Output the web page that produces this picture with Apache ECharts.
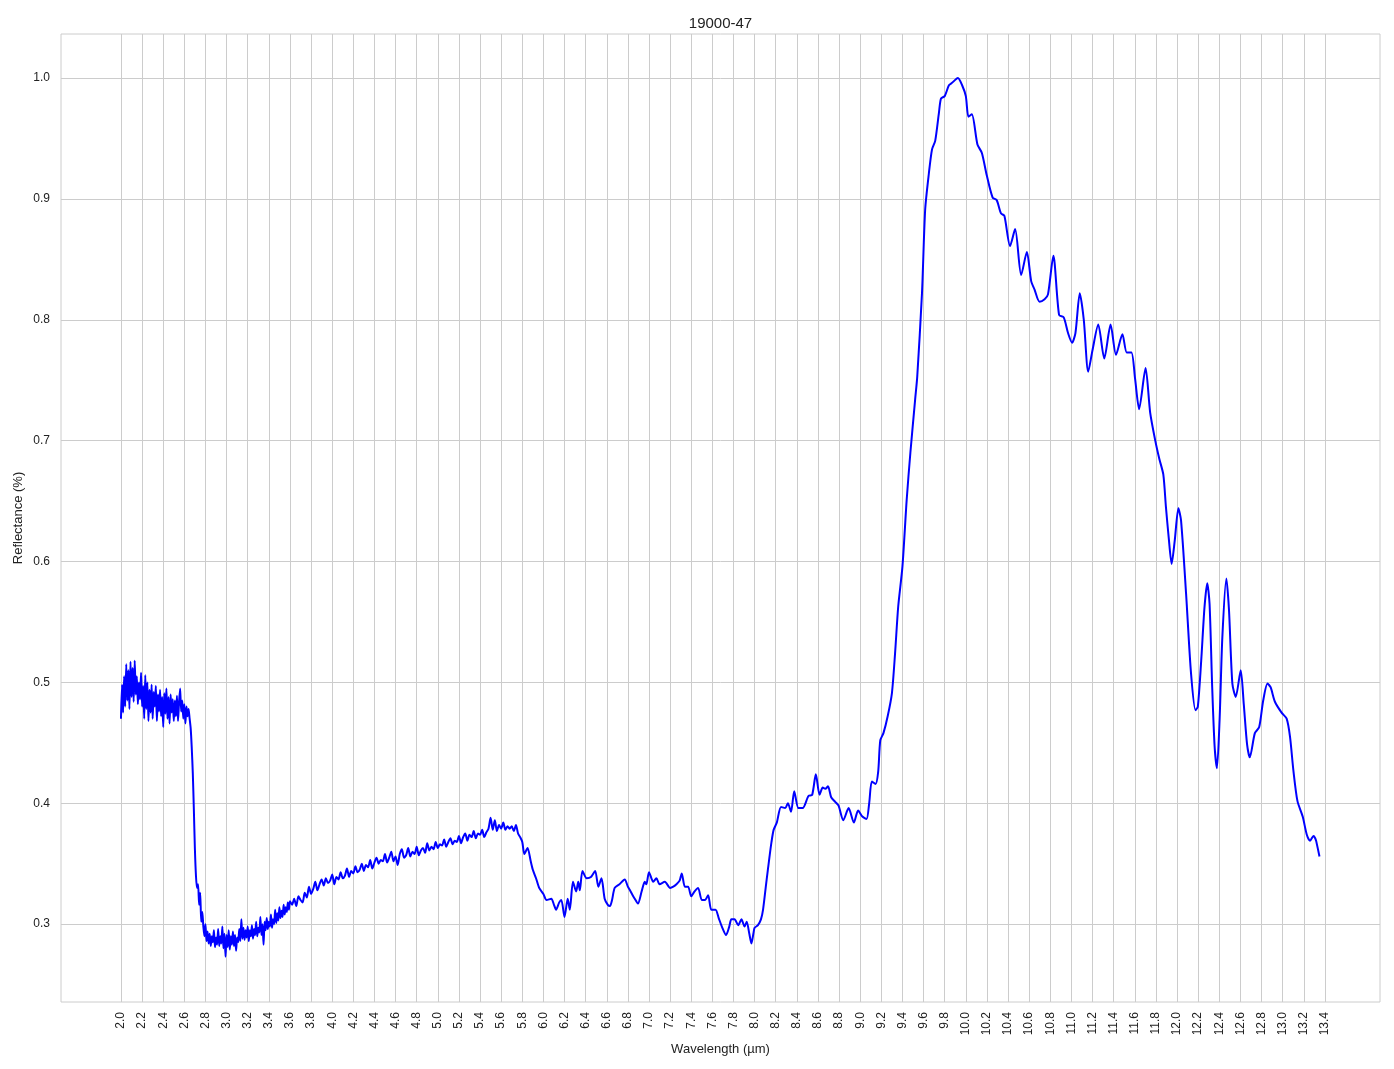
<!DOCTYPE html>
<html><head><meta charset="utf-8">
<script src="https://cdn.jsdelivr.net/npm/echarts@6/dist/echarts.min.js"></script>
<style>html,body{margin:0;padding:0;background:#fff}#c{width:1394px;height:1069px}</style>
</head><body><div id="c"></div><script>
const chartTitle = '19000-47';
const xName = 'Wavelength (µm)';
const yName = 'Reflectance (%)';
const xTicks = [2.0,2.2,2.4,2.6,2.8,3.0,3.2,3.4,3.6,3.8,4.0,4.2,4.4,4.6,4.8,5.0,5.2,5.4,5.6,5.8,6.0,6.2,6.4,6.6,6.8,7.0,7.2,7.4,7.6,7.8,8.0,8.2,8.4,8.6,8.8,9.0,9.2,9.4,9.6,9.8,10.0,10.2,10.4,10.6,10.8,11.0,11.2,11.4,11.6,11.8,12.0,12.2,12.4,12.6,12.8,13.0,13.2,13.4];
const yTicks = [0.3,0.4,0.5,0.6,0.7,0.8,0.9,1.0];

// [wavelength µm, reflectance]
const segNoisyPlateau = [
[2.00,0.470],[2.01,0.498],[2.02,0.475],[2.03,0.505],[2.04,0.480],[2.05,0.515],[2.06,0.485],[2.07,0.510],[2.08,0.478],[2.09,0.517],
[2.10,0.488],[2.11,0.512],[2.12,0.484],[2.13,0.518],[2.14,0.490],[2.15,0.505],[2.16,0.482],[2.17,0.500],[2.18,0.486],[2.19,0.508],
[2.20,0.480],[2.21,0.497],[2.22,0.470],[2.23,0.506],[2.24,0.478],[2.25,0.500],[2.26,0.468],[2.27,0.494],[2.28,0.475],[2.29,0.498],
[2.30,0.470],[2.31,0.492],[2.32,0.480],[2.33,0.497],[2.34,0.468],[2.35,0.490],[2.36,0.476],[2.37,0.494],[2.38,0.472],[2.39,0.488],
[2.40,0.463],[2.41,0.491],[2.42,0.474],[2.43,0.495],[2.44,0.470],[2.45,0.488],[2.46,0.466],[2.47,0.490],[2.48,0.475],[2.49,0.486],
[2.50,0.468],[2.51,0.485],[2.52,0.472],[2.53,0.489],[2.54,0.468],[2.55,0.484],[2.56,0.495],[2.57,0.476],[2.58,0.485],[2.59,0.470],
[2.60,0.482],[2.61,0.466],[2.62,0.480],[2.63,0.472],[2.64,0.478]
];
const segDrop = [
[2.65,0.470],[2.66,0.462],[2.67,0.446],[2.68,0.425],[2.69,0.395],[2.70,0.362],[2.71,0.340],[2.72,0.330],[2.73,0.333],[2.74,0.316],[2.75,0.326],[2.76,0.302],[2.77,0.310]
];
const segTrough = [
[2.78,0.298],[2.79,0.290],[2.80,0.300],[2.81,0.286],[2.82,0.294],[2.83,0.284],[2.84,0.292],[2.85,0.282],[2.86,0.290],[2.87,0.285],
[2.88,0.295],[2.89,0.281],[2.90,0.289],[2.91,0.283],[2.92,0.296],[2.93,0.282],[2.94,0.290],[2.95,0.284],[2.96,0.298],[2.97,0.280],
[2.98,0.292],[2.99,0.273],[3.00,0.291],[3.01,0.281],[3.02,0.295],[3.03,0.279],[3.04,0.290],[3.05,0.283],[3.06,0.294],[3.07,0.282],
[3.08,0.291],[3.09,0.278],[3.10,0.289],[3.11,0.285],[3.12,0.296],[3.13,0.286],[3.14,0.304],[3.15,0.288],[3.16,0.297],[3.17,0.287],
[3.18,0.295],[3.19,0.289],[3.20,0.298],[3.21,0.286],[3.22,0.295],[3.23,0.290],[3.24,0.299],[3.25,0.288],[3.26,0.296],[3.27,0.291],
[3.28,0.302],[3.29,0.290],[3.30,0.297],[3.31,0.293],[3.32,0.306],[3.33,0.291],[3.34,0.300],[3.35,0.283],[3.36,0.302],[3.37,0.295],
[3.38,0.305],[3.39,0.296],[3.40,0.302],[3.41,0.298],[3.42,0.308],[3.43,0.297],[3.44,0.304],[3.45,0.300],[3.46,0.312],[3.47,0.301],
[3.48,0.309],[3.49,0.303],[3.50,0.314],[3.51,0.305],[3.52,0.311],[3.53,0.306],[3.54,0.316],[3.55,0.308],[3.56,0.314],[3.57,0.310],
[3.58,0.318],[3.59,0.312],[3.60,0.319]
];
const segSlope = [
[3.62,0.316],[3.64,0.321],[3.66,0.315],[3.68,0.323],[3.70,0.320],[3.72,0.318],[3.74,0.326],[3.76,0.322],[3.78,0.331],[3.80,0.325],
[3.82,0.329],[3.84,0.335],[3.86,0.328],[3.88,0.333],[3.90,0.337],[3.92,0.332],[3.94,0.338],[3.96,0.334],[3.98,0.336],[4.00,0.341],
[4.02,0.333],[4.04,0.339],[4.06,0.337],[4.08,0.343],[4.10,0.338],[4.12,0.340],[4.14,0.346],[4.16,0.339],[4.18,0.344],[4.20,0.342],
[4.22,0.348],[4.24,0.343],[4.26,0.345],[4.28,0.350],[4.30,0.344],[4.32,0.349],[4.34,0.347],[4.36,0.353],[4.38,0.346],[4.40,0.351],
[4.42,0.355],[4.44,0.350],[4.46,0.353],[4.48,0.352],[4.50,0.358],[4.52,0.351],[4.54,0.355],[4.56,0.360],[4.58,0.352],[4.60,0.356],
[4.62,0.349],[4.64,0.358],[4.66,0.362],[4.68,0.355],[4.70,0.357],[4.72,0.363],[4.74,0.356],[4.76,0.360],[4.78,0.358],[4.80,0.364],
[4.82,0.357],[4.84,0.361],[4.86,0.363],[4.88,0.359],[4.90,0.367],[4.92,0.361],[4.94,0.364],[4.96,0.362],[4.98,0.368],[5.00,0.363],
[5.02,0.366],[5.04,0.365],[5.06,0.370],[5.08,0.364],[5.10,0.368],[5.12,0.371],[5.14,0.366],[5.16,0.369],[5.18,0.368],[5.20,0.373],
[5.22,0.367],[5.24,0.372],[5.26,0.375],[5.28,0.369],[5.30,0.374],[5.32,0.372],[5.34,0.377],[5.36,0.371],[5.38,0.375],[5.40,0.374],
[5.42,0.378],[5.44,0.372],[5.46,0.376],[5.48,0.379],[5.50,0.388],[5.52,0.378],[5.54,0.386],[5.56,0.377],[5.58,0.382],[5.60,0.379],
[5.62,0.384],[5.64,0.378],[5.66,0.381],[5.68,0.379],[5.70,0.381],[5.72,0.377],[5.74,0.382],[5.76,0.375],[5.78,0.372]
];
const segMid = [
[5.80,0.368],[5.82,0.358],[5.85,0.363],[5.88,0.352],[5.90,0.345],[5.93,0.338],[5.96,0.330],[6.00,0.325],[6.03,0.320],[6.075,0.321],
[6.10,0.316],[6.12,0.312],[6.15,0.318],[6.17,0.320],[6.20,0.306],[6.23,0.321],[6.25,0.312],[6.28,0.335],[6.31,0.327],[6.33,0.335],
[6.345,0.328],[6.37,0.344],[6.41,0.338],[6.45,0.339],[6.49,0.344],[6.52,0.331],[6.55,0.338],[6.58,0.321],[6.61,0.316],[6.63,0.315],
[6.65,0.320],[6.675,0.330],[6.72,0.333],[6.77,0.337],[6.80,0.331],[6.82,0.328],[6.845,0.324],[6.865,0.321],[6.895,0.317],[6.93,0.327],
[6.96,0.335],[6.975,0.333],[7.00,0.343],[7.04,0.335],[7.07,0.338],[7.10,0.333],[7.15,0.335],[7.20,0.330],[7.23,0.331],[7.26,0.333],
[7.29,0.336],[7.31,0.342],[7.34,0.331],[7.37,0.331],[7.40,0.323],[7.43,0.327],[7.465,0.330],[7.50,0.320],[7.53,0.320],[7.56,0.324],
[7.59,0.312],[7.63,0.312],[7.66,0.305],[7.69,0.298],[7.73,0.291],[7.76,0.298],[7.78,0.304],[7.81,0.304],[7.845,0.299],[7.875,0.304],
[7.905,0.298],[7.925,0.302],[7.95,0.292],[7.97,0.284],[7.99,0.293],[8.00,0.297],[8.03,0.299],[8.06,0.304],[8.08,0.312]
];
const segShoulder = [
[8.11,0.334],[8.14,0.355],[8.16,0.368],[8.18,0.378],[8.21,0.384],[8.25,0.397],[8.29,0.396],[8.315,0.400],[8.345,0.393],[8.375,0.410],
[8.415,0.396],[8.455,0.396],[8.51,0.406],[8.545,0.407],[8.58,0.424],[8.615,0.407],[8.645,0.413],[8.67,0.412],[8.695,0.414],[8.725,0.405],
[8.765,0.401],[8.795,0.398],[8.84,0.386],[8.89,0.396],[8.94,0.384],[8.98,0.394],[9.02,0.389],[9.06,0.387],[9.085,0.400],[9.11,0.418],
[9.145,0.416],[9.17,0.426],[9.19,0.452],[9.22,0.458],[9.26,0.472],[9.30,0.491],[9.33,0.524],[9.36,0.563],[9.40,0.596],[9.44,0.651],
[9.475,0.690],[9.52,0.734],[9.54,0.753],[9.585,0.822],[9.615,0.891],[9.65,0.921],[9.68,0.941],[9.71,0.948],[9.745,0.971],[9.765,0.983],
[9.80,0.985],[9.84,0.994],[9.87,0.996],[9.925,1.000],[9.965,0.994],[10.00,0.985]
];
const segDecline = [
[10.025,0.968],[10.057,0.970],[10.11,0.945],[10.152,0.938],[10.197,0.920],[10.254,0.901],[10.292,0.899],[10.333,0.888],[10.365,0.886],[10.419,0.861],
[10.467,0.875],[10.524,0.837],[10.578,0.856],[10.619,0.832],[10.651,0.825],[10.698,0.815],[10.746,0.817],[10.778,0.821],[10.829,0.853],[10.883,0.804],
[10.927,0.802],[10.968,0.789],[11.006,0.781],[11.038,0.789],[11.079,0.822],[11.117,0.800],[11.159,0.757],[11.20,0.775],[11.254,0.796],[11.311,0.768],
[11.371,0.796],[11.422,0.771],[11.483,0.788],[11.524,0.773],[11.568,0.773],[11.603,0.751],[11.641,0.726],[11.702,0.760],[11.746,0.723],[11.794,0.700],
[11.832,0.685],[11.87,0.672],[11.895,0.645],[11.921,0.620],[11.949,0.598],[11.978,0.617],[12.013,0.644],[12.038,0.634],[12.086,0.573],[12.133,0.507],
[12.175,0.477],[12.197,0.480],[12.229,0.518],[12.26,0.562],[12.286,0.582],[12.308,0.565],[12.333,0.496],[12.356,0.447],[12.378,0.429],[12.403,0.469],
[12.429,0.537],[12.467,0.586],[12.492,0.560],[12.524,0.499],[12.556,0.488],[12.603,0.510],[12.632,0.482],[12.663,0.449],[12.689,0.438],[12.737,0.458],
[12.778,0.463],[12.816,0.485],[12.857,0.499],[12.886,0.496],[12.927,0.484],[12.99,0.475],[13.038,0.470],[13.07,0.455],[13.102,0.427],[13.14,0.402],
[13.19,0.389],[13.229,0.374],[13.26,0.369],[13.292,0.373],[13.317,0.369],[13.349,0.356]
];

const spectrum = [].concat(segNoisyPlateau, segDrop, segTrough, segSlope, segMid, segShoulder, segDecline);

const FONT = 'Liberation Sans, Arial, Helvetica, sans-serif';
const TXT = '#222222';
const GRIDC = '#cccccc';

const chart = echarts.init(document.getElementById('c'), null, {renderer: 'canvas'});
chart.setOption({
  animation: false,
  backgroundColor: '#ffffff',
  title: {
    text: chartTitle, left: 715.5, top: 11, textAlign: 'center',
    textStyle: {fontFamily: FONT, fontSize: 15, fontWeight: 'normal', color: TXT}
  },
  grid: {left: 61, right: 14, top: 34, bottom: 67, show: true, borderColor: GRIDC, borderWidth: 1, containLabel: false},
  xAxis: {
    type: 'value', min: 1.432, max: 13.922,
    name: xName, nameLocation: 'middle', nameGap: 40,
    nameTextStyle: {fontFamily: FONT, fontSize: 13, color: TXT},
    axisLine: {show: false},
    axisTick: {show: false, customValues: xTicks},
    axisLabel: {customValues: xTicks, rotate: 90, margin: 10, fontFamily: FONT, fontSize: 12, color: TXT,
      formatter: v => Number(v).toFixed(1)},
    splitLine: {show: true, lineStyle: {color: GRIDC, width: 1}}
  },
  yAxis: {
    type: 'value', min: 0.2356, max: 1.0364,
    name: yName, nameLocation: 'middle', nameGap: 36, nameMoveOverlap: false,
    nameTextStyle: {fontFamily: FONT, fontSize: 13, color: TXT},
    axisLine: {show: false},
    axisTick: {show: false, customValues: yTicks},
    axisLabel: {customValues: yTicks, margin: 11, fontFamily: FONT, fontSize: 12, color: TXT,
      formatter: v => Number(v).toFixed(1)},
    splitLine: {show: true, lineStyle: {color: GRIDC, width: 1}}
  },
  series: [{
    type: 'line', data: spectrum, showSymbol: false, smooth: 0.25,
    lineStyle: {color: '#0000ff', width: 2}, itemStyle: {color: '#0000ff'}
  }]
});
</script></body></html>
